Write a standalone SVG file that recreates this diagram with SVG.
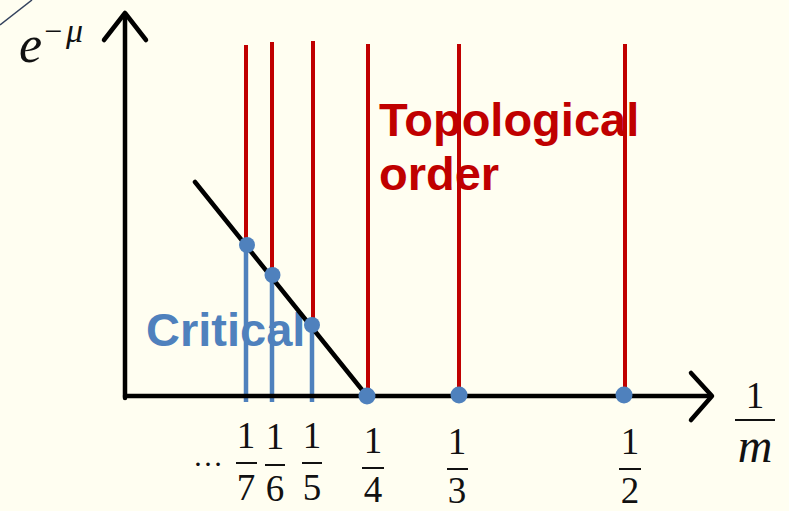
<svg xmlns="http://www.w3.org/2000/svg" width="789" height="511" viewBox="0 0 789 511">
<defs>
<style>
.bg{fill:#FFFEF1}
.red{stroke:#C00000;stroke-width:4;fill:none}
.blue{stroke:#4F81BD;stroke-width:4.5;fill:none}
.blk{stroke:#000;stroke-width:4.5;fill:none;stroke-linecap:round;stroke-linejoin:round}
.dot{fill:#4F81BD}
.num{font-family:"Liberation Serif","DejaVu Serif",serif;font-size:37px;fill:#111;text-anchor:middle}
.bar{stroke:#111;stroke-width:2}
.lbl{font-family:"Liberation Sans",Arial,sans-serif;font-weight:bold;font-size:47px}
.it{font-family:"Liberation Serif","DejaVu Serif",serif;font-style:italic;fill:#111}
</style>
</defs>
<rect class="bg" x="0" y="0" width="789" height="511"/>
<line x1="0" y1="25" x2="32" y2="0" stroke="#34425e" stroke-width="1.5"/>

<g id="labels-text">
<text class="lbl" x="379" y="136" fill="#C00000">Topological</text>
<text class="lbl" x="379" y="190" fill="#C00000">order</text>
<text class="lbl" x="146" y="346" fill="#4F81BD" font-size="46">Critical</text>
</g>

<g id="connectors">
<line class="red" x1="246" y1="45" x2="246" y2="246"/>
<line class="red" x1="272" y1="42" x2="272" y2="275"/>
<line class="red" x1="313" y1="41" x2="313" y2="325"/>
<line class="red" x1="368" y1="44" x2="368" y2="396"/>
<line class="red" x1="459" y1="44" x2="459" y2="396"/>
<line class="red" x1="625" y1="44" x2="625" y2="396"/>
<line class="blue" x1="246" y1="246" x2="246" y2="402"/>
<line class="blue" x1="272" y1="275" x2="272" y2="402"/>
<line class="blue" x1="312" y1="325" x2="312" y2="402"/>
<line class="blk" x1="125" y1="396" x2="710" y2="396"/>
<polyline class="blk" points="691,373 712,396 691,420"/>
<line class="blk" x1="125" y1="398" x2="125" y2="14"/>
<polyline class="blk" points="104,40 125,13 146,40"/>
<line class="blk" x1="195" y1="182" x2="367" y2="396" stroke-width="5"/>
</g>

<g id="dots">
<circle class="dot" cx="247" cy="245" r="8"/>
<circle class="dot" cx="272.5" cy="275" r="8"/>
<circle class="dot" cx="312" cy="325" r="8"/>
<circle class="dot" cx="367" cy="396" r="8.5"/>
<circle class="dot" cx="459" cy="395" r="8.5"/>
<circle class="dot" cx="624" cy="395" r="8.5"/>
</g>

<g id="ylabel">
<text class="it" x="19" y="62" font-size="52">e</text>
<text class="it" x="42" y="42" font-size="32" font-style="normal">−</text>
<text class="it" x="66" y="42" font-size="34">μ</text>
</g>

<g id="xlabel">
<text class="num" x="755" y="408" font-size="54">1</text>
<line class="bar" x1="735" y1="420" x2="775" y2="420" stroke-width="2.5"/>
<text class="it" x="755" y="462" font-size="48" text-anchor="middle">m</text>
</g>

<g id="ticks">
<text x="193" y="466" font-family="Liberation Serif,serif" font-size="30" fill="#111">…</text>
<text class="num" x="246" y="448">1</text><line class="bar" x1="236" y1="463" x2="257" y2="463"/><text class="num" x="246" y="500">7</text>
<text class="num" x="275" y="449">1</text><line class="bar" x1="265" y1="465" x2="285" y2="465"/><text class="num" x="275" y="501">6</text>
<text class="num" x="312" y="448">1</text><line class="bar" x1="302" y1="463" x2="322" y2="463"/><text class="num" x="312" y="500">5</text>
<text class="num" x="373" y="453">1</text><line class="bar" x1="362" y1="468" x2="384" y2="468"/><text class="num" x="373" y="502">4</text>
<text class="num" x="457" y="454">1</text><line class="bar" x1="447" y1="469" x2="468" y2="469"/><text class="num" x="457" y="503">3</text>
<text class="num" x="630" y="454">1</text><line class="bar" x1="619" y1="469" x2="641" y2="469"/><text class="num" x="630" y="503">2</text>
</g>
</svg>
